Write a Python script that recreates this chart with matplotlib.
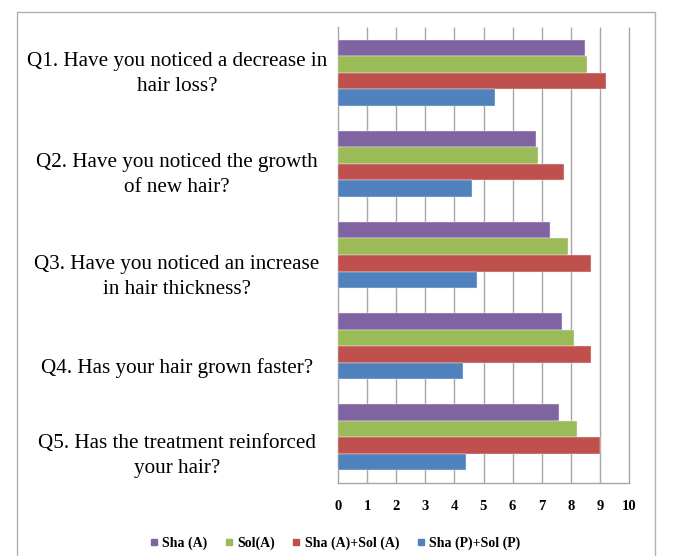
import matplotlib
matplotlib.use("Agg")
import matplotlib.pyplot as plt
import numpy as np
from matplotlib.lines import Line2D
from matplotlib.patches import Rectangle

plt.rcParams["font.family"] = ["Liberation Serif", "DejaVu Serif"]

questions = [
    "Q1. Have you noticed a decrease in\nhair loss?",
    "Q2. Have you noticed the growth\nof new hair?",
    "Q3. Have you noticed an increase\nin hair thickness?",
    "Q4. Has your hair grown faster?",
    "Q5. Has the treatment reinforced\nyour hair?",
]
series_names = ["Sha (A)", "Sol(A)", "Sha (A)+Sol (A)", "Sha (P)+Sol (P)"]
sha_a = [8.5, 6.8, 7.27, 7.7, 7.6]
sol_a = [8.57, 6.87, 7.9, 8.1, 8.2]
sha_sol_a = [9.2, 7.78, 8.7, 8.7, 9.0]
sha_sol_p = [5.4, 4.6, 4.78, 4.3, 4.4]
colors = ["#8064A2", "#9BBB59", "#C0504D", "#4F81BD"]

W, H = 679, 556
# vertical pixel centres of the question text boxes
label_y = [74, 175, 277, 368, 456]

fig = plt.figure(figsize=(W / 100, H / 100), dpi=100)
ax = fig.add_axes([338 / W, 1 - 483 / H, (629 - 338) / W, (483 - 27) / H])

n = len(questions)
centers = np.arange(n)[::-1]  # Q1 on top
bar_h = 0.181
for k, vals in enumerate([sha_a, sol_a, sha_sol_a, sha_sol_p]):
    offs = (1.5 - k) * bar_h
    ax.barh(centers + offs, vals, height=bar_h, color=colors[k],
            edgecolor="#f0f0f0", linewidth=0.3, zorder=3, label=series_names[k])

ax.set_xlim(0, 10)
ax.set_ylim(-0.5, n - 0.5)
ax.set_xticks(range(11))
ax.set_xticklabels([str(i) for i in range(11)], fontweight="bold", fontsize=10.5)
ax.tick_params(axis="x", length=0, pad=12)
ax.set_yticks([])
# vertical gridlines, the last one at 10 must not be clipped
ax.vlines(range(1, 11), -0.5, n - 0.5, colors="#a6a6a6", linewidth=1,
          zorder=0, clip_on=False)
for side in ["top", "right"]:
    ax.spines[side].set_visible(False)
for side in ["left", "bottom"]:
    ax.spines[side].set_color("#a6a6a6")
    ax.spines[side].set_linewidth(1)

# question labels, centred in the left margin
for yp, q in zip(label_y, questions):
    fig.text(177 / W, 1 - yp / H, q, ha="center", va="center",
             multialignment="center", fontsize=15.2, linespacing=1.45)

handles = [Line2D([], [], marker="s", linestyle="", markersize=4.5,
                  color=c) for c in colors]
fig.legend(handles, series_names, loc="center", bbox_to_anchor=(335 / W, 1 - 543 / H),
           ncol=4, frameon=False, handlelength=0.6, handletextpad=0.3,
           columnspacing=1.25, prop={"weight": "bold", "size": 10})

# light outer frame
fig.patches.append(Rectangle((17 / W, -0.05), (655 - 17) / W, 1.05 - 12 / H,
                             transform=fig.transFigure, fill=False,
                             edgecolor="#b0b0b0", linewidth=1))

fig.savefig("out.png", dpi=100)
